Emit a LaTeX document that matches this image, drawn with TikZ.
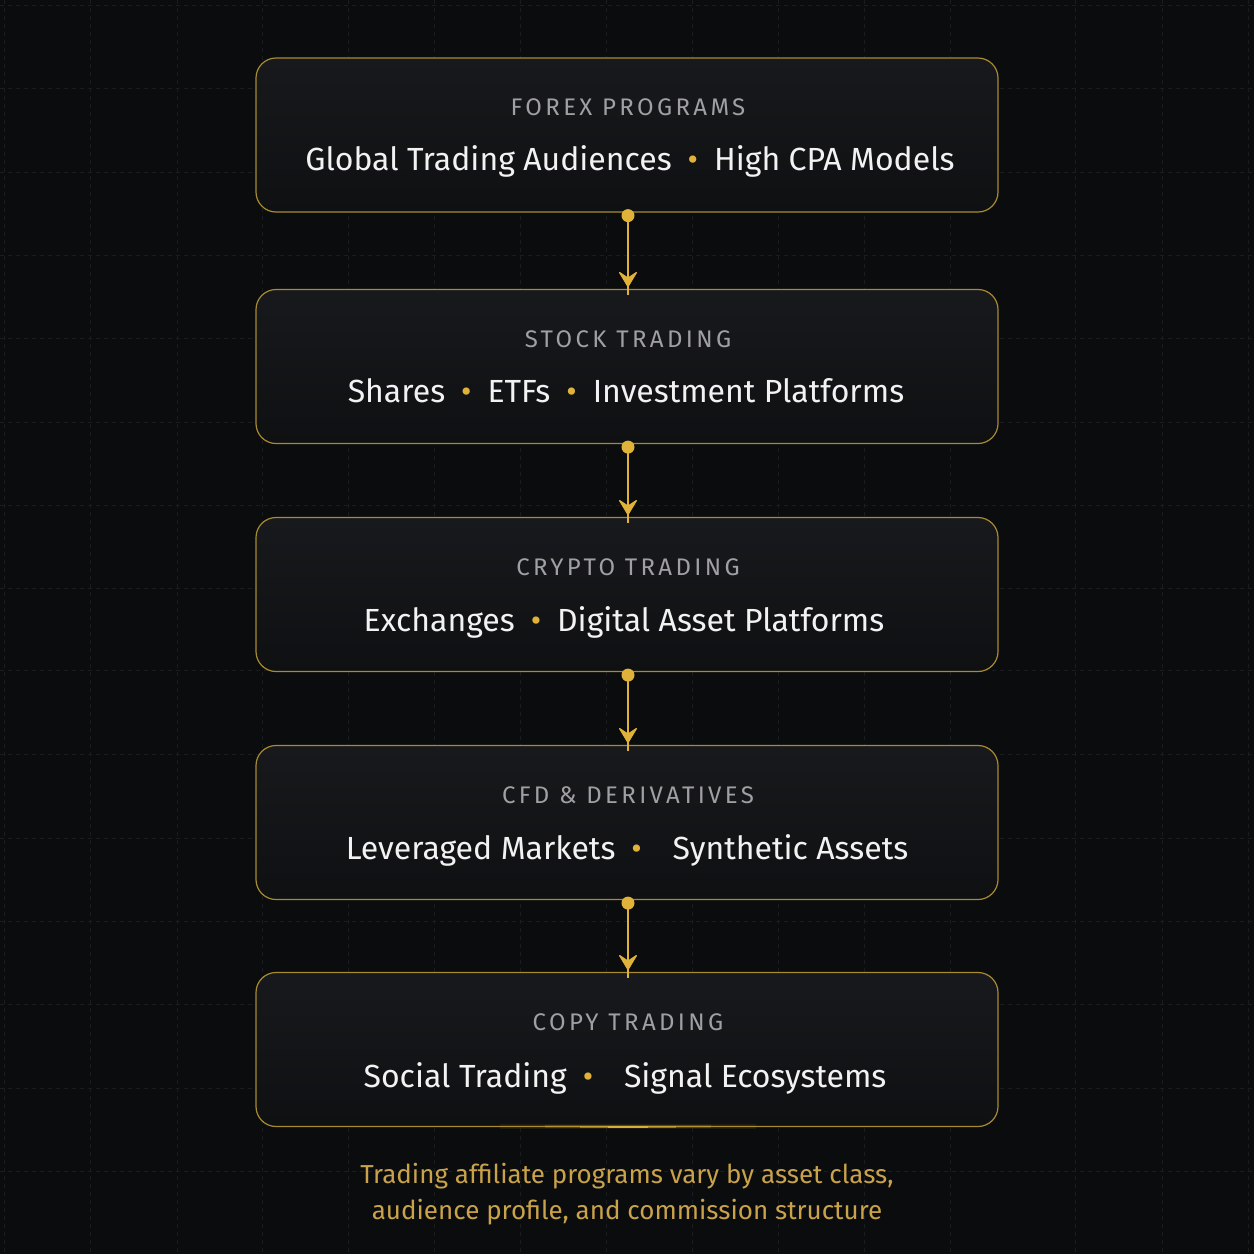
\documentclass[tikz,border=0pt]{standalone}
\usepackage{fontspec}
\setmainfont{Fira Sans}
\definecolor{bg}{HTML}{0B0C0E}
\definecolor{boxtop}{HTML}{18191C}
\definecolor{boxbot}{HTML}{0F1012}
\definecolor{border}{HTML}{A88A30}
\definecolor{gold}{HTML}{E0B23A}
\definecolor{titlegray}{HTML}{A0A0A4}
\definecolor{maintext}{HTML}{F2F2F2}
\definecolor{foot}{HTML}{C9A24A}
\definecolor{gridc}{HTML}{1B1C20}
\newcommand{\gb}{\hspace{0.5em}{\color{gold}\textbullet}\hspace{0.5em}}
\tikzset{
  card/.style={draw=border, line width=1.2pt, rounded corners=20pt,
    top color=boxtop, bottom color=boxbot,
    minimum width=742pt, minimum height=154pt, inner sep=0pt},
  cardtitle/.style={text=titlegray, font=\addfontfeature{LetterSpace=14}\fontsize{24}{26}\selectfont, inner sep=0pt, anchor=base},
  cardmain/.style={text=maintext, font=\fontsize{32}{36}\selectfont, inner sep=0pt, anchor=base},
  dot/.style={circle, fill=gold, minimum size=13pt, inner sep=0pt},
  conn/.style={draw=gold, line width=2pt},
  chev/.style={fill=gold, draw=gold, line width=0.8pt, line join=round, rounded corners=1pt},
  gridline/.style={draw=gridc, line width=0.8pt, dash pattern=on 4pt off 4pt},
}
\begin{document}
\begin{tikzpicture}[x=1pt,y=-1pt]
\useasboundingbox (0,0) rectangle (1254,1254);
\fill[bg] (0,0) rectangle (1254,1254);
% faint grid
\foreach \gx in {4,90,177,262,348,434,520,606,692,778,864,950,1075,1162,1248}
  \draw[gridline] (\gx,0) -- (\gx,1254);
\foreach \gy in {5,88,172,255,338,422,505,588,670,754,838,921,1004,1088,1171,1254}
  \draw[gridline] (0,\gy) -- (1254,\gy);
% cards
\node[card] (b1) at (627,135) {};
\node[card] (b2) at (627,366.5) {};
\node[card] (b3) at (627,594.5) {};
\node[card] (b4) at (627,822.5) {};
\node[card] (b5) at (627,1049.5) {};
% texts
\node[cardtitle] (t1) at (628,115) {FOREX PROGRAMS};
\node[cardmain] (m1) at (630,170) {Global Trading Audiences\gb High CPA Models};
\node[cardtitle] (t2) at (628,347) {STOCK TRADING};
\node[cardmain] (m2) at (626,402) {Shares\gb ETFs\gb Investment Platforms};
\node[cardtitle] (t3) at (628,575) {CRYPTO TRADING};
\node[cardmain] (m3) at (624,631) {Exchanges\gb Digital Asset Platforms};
\node[cardtitle] (t4) at (628,803) {CFD \& DERIVATIVES};
\node[cardmain] (m4) at (627,859) {Leveraged Markets\gb\hspace{0.2em} Synthetic Assets};
\node[cardtitle] (t5) at (628,1030) {COPY TRADING};
\node[cardmain] (m5) at (625,1087) {Social Trading\gb\hspace{0.2em} Signal Ecosystems};
% connectors
\foreach \i/\j in {1/2,2/3,3/4,4/5}{
  \node[dot] (d\i) at ([xshift=1pt,yshift=-3pt]b\i.south) {};
  \draw[conn] (d\i.center) -- ([xshift=1pt,yshift=-6pt]b\j.north);
  \filldraw[chev] ([xshift=1pt,yshift=2pt]b\j.north)
     -- ++(-9,-15) -- ++(9,6) -- ++(9,-6) -- cycle;
}
% glow under last card
\draw[gold, line width=5pt, opacity=0.08] (500,1126.5) -- (756,1126.5);
\draw[gold, line width=3pt, opacity=0.2] (545,1126.5) -- (711,1126.5);
\draw[gold, line width=2pt, opacity=0.45] (580,1126.5) -- (676,1126.5);
\draw[gold, line width=2pt, opacity=0.9] (608,1126.5) -- (648,1126.5);
% footer
\node[text=foot, font=\fontsize{26}{36}\selectfont, align=center, inner sep=0pt] (foot) at (627,1194)
  {Trading affiliate programs vary by asset class,\\audience profile, and commission structure};
\end{tikzpicture}
\end{document}
